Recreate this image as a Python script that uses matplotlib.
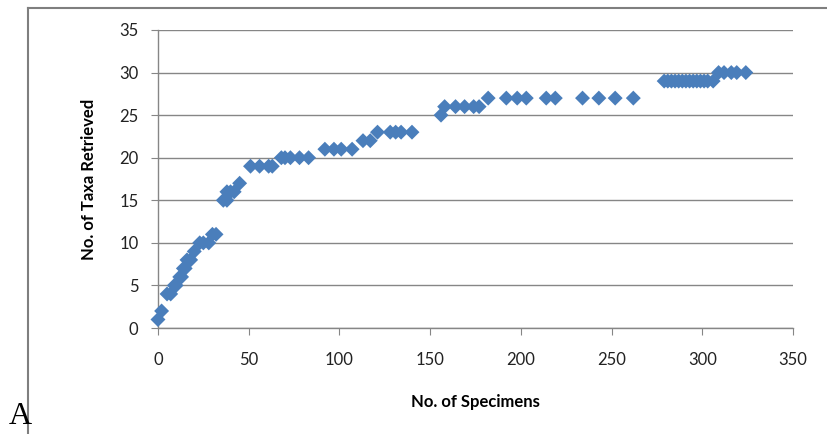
import matplotlib
matplotlib.use("Agg")
import matplotlib.pyplot as plt
from matplotlib.lines import Line2D

# Accumulation curve: taxa retrieved vs. specimens examined
specimens = [
    0, 2, 5, 7, 9, 10, 12, 13, 14, 15, 16, 18, 20, 23, 25, 28, 30, 32,
    36, 38, 38, 40, 42, 45,
    51, 56, 61, 63, 68, 70, 73, 78, 83,
    92, 97, 101, 107, 113, 117, 121, 128, 131, 134, 140,
    156, 158, 164, 169, 174, 177,
    182, 192, 198, 203, 214, 219, 234, 243, 252, 262,
    279, 281, 283, 285, 287, 289, 291, 293, 295, 297, 299, 301, 303, 306,
    309, 312, 316, 319, 324,
]
taxa = [
    1, 2, 4, 4, 5, 5, 6, 6, 7, 7, 8, 8, 9, 10, 10, 10, 11, 11,
    15, 15, 16, 16, 16, 17,
    19, 19, 19, 19, 20, 20, 20, 20, 20,
    21, 21, 21, 21, 22, 22, 23, 23, 23, 23, 23,
    25, 26, 26, 26, 26, 26,
    27, 27, 27, 27, 27, 27, 27, 27, 27, 27,
    29, 29, 29, 29, 29, 29, 29, 29, 29, 29, 29, 29, 29, 29,
    30, 30, 30, 30, 30,
]
x_ticks = [0, 50, 100, 150, 200, 250, 300, 350]
y_ticks = [0, 5, 10, 15, 20, 25, 30, 35]

MARKER_COLOR = "#4a7ebb"
GRID_COLOR = "#868686"
FONT = ["Lato", "DejaVu Sans"]

plt.rcParams["font.family"] = FONT

fig = plt.figure(figsize=(8.28, 4.34), dpi=100)
ax = fig.add_axes([0.1908, 0.2442, 0.7669, 0.6867])

ax.scatter(specimens, taxa, marker="D", s=58, color=MARKER_COLOR,
           edgecolors="none", zorder=3, clip_on=False)

ax.set_xlim(0, 350)
ax.set_ylim(0, 35)
ax.set_xticks(x_ticks)
ax.set_yticks(y_ticks)
ax.grid(axis="y", color=GRID_COLOR, lw=1.0)
ax.set_axisbelow(True)
for side in ("top", "right"):
    ax.spines[side].set_visible(False)
for side in ("left", "bottom"):
    ax.spines[side].set_color(GRID_COLOR)
    ax.spines[side].set_linewidth(1.0)
ax.tick_params(axis="both", direction="out", length=5, color=GRID_COLOR,
               labelsize=12, labelcolor="#222222")
ax.tick_params(axis="x", pad=12)
ax.tick_params(axis="y", pad=9)

ax.set_xlabel("No. of Specimens", fontsize=12, fontweight="bold", labelpad=19)
ax.set_ylabel("No. of Taxa Retrieved", fontsize=12, fontweight="bold", labelpad=16)

# Outer panel frame (left and top edges) and panel letter
fig.add_artist(Line2D([28 / 828, 28 / 828], [0, 1 - 8 / 434],
                      transform=fig.transFigure, color="#7f7f7f", lw=1.5))
fig.add_artist(Line2D([28 / 828, 1], [1 - 8 / 434, 1 - 8 / 434],
                      transform=fig.transFigure, color="#7f7f7f", lw=1.5))
fig.text(9 / 828, 3 / 434, "A", family=["Liberation Serif", "DejaVu Serif"],
         fontsize=23, ha="left", va="bottom")

fig.savefig("out.png", dpi=100)
